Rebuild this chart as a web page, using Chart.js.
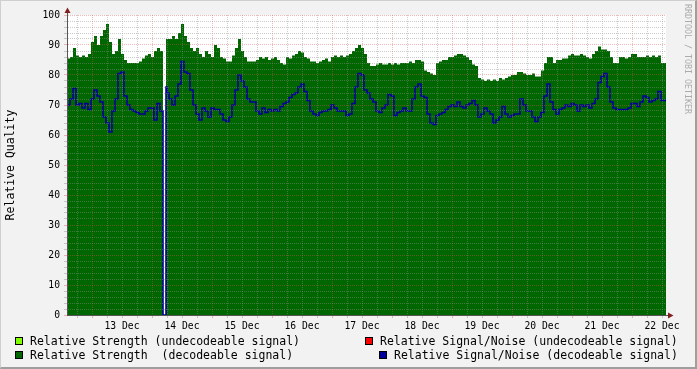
<!DOCTYPE html>
<html>
<head>
<meta charset="utf-8">
<script src="https://cdn.jsdelivr.net/npm/chart.js@4.4.1/dist/chart.umd.min.js"></script>
<style>
  html, body { margin: 0; padding: 0; background: #f2f2f2; }
  #wrap { position: relative; width: 697px; height: 369px; overflow: hidden; background: #f2f2f2; }
  #frame { position: absolute; left: 0; top: 0; width: 697px; height: 369px; box-sizing: border-box;
           border-top: 1px solid #cfcfcf; border-left: 1px solid #cfcfcf;
           border-right: 2px solid #9e9e9e; border-bottom: 2px solid #9e9e9e; pointer-events: none; }
  canvas { position: absolute; left: 0; top: 0; }
  .leg { position: absolute; font: 11.5px 'DejaVu Sans Mono', monospace; line-height: 14px; white-space: pre; color: #000; }
  .sw { position: absolute; width: 8px; height: 8px; box-sizing: border-box; border: 1px solid #000; }
  #mark { position: absolute; left: 683px; top: 4px; writing-mode: vertical-rl;
          font: 8.3px 'DejaVu Sans Mono', monospace; color: #ababab; white-space: pre; }
</style>
</head>
<body>
<div id="wrap">
  <canvas id="chart" width="697" height="369"></canvas>
  <div id="legend"></div>
  <div id="mark">RRDTOOL / TOBI OETIKER</div>
  <div id="frame"></div>
</div>
<script>
// one sample = 1.2 h, starting 12 Dec 14:00
const sampleHours = 1.2;
const xMax = 239.6;

// signal lost for one short slot at the start of this sample
const dropoutSample = 33;
const dropoutHours = 0.4;

// day labels sit at noon, first one 22 h after start; midnights from 10 h
const dayLabels = ['13 Dec', '14 Dec', '15 Dec', '16 Dec', '17 Dec', '18 Dec', '19 Dec', '20 Dec', '21 Dec', '22 Dec'];
const firstNoon = 22;
const firstMidnight = 10;

// Relative Strength (decodeable signal)
const strength = [
  86, 85.5, 86, 89, 86.5, 86, 86.5, 86, 87, 91,
  93, 90, 93, 95, 97, 91, 87, 88, 92, 87,
  85, 84, 84, 84, 84, 84.5, 85.5, 86.5, 87, 86,
  88, 89, 88, 92, 92, 92, 93, 92, 94, 97,
  93, 91, 89, 88, 89, 87, 86, 88, 87, 86,
  90, 89, 86, 85.5, 84.5, 84.5, 86.5, 89, 92, 88,
  86, 84.5, 84.5, 84.5, 85, 86, 85.5, 86, 85, 85.5,
  86, 85, 84, 83.5, 86, 85.5, 86.5, 87, 88, 87.5,
  86, 85.5, 84.5, 84.5, 84, 84.5, 85, 85.5, 84.5, 86,
  86.5, 86, 86.5, 86, 86.5, 87, 88, 89, 90, 89,
  87, 84, 83, 83, 83.5, 84, 83.5, 83.5, 84, 83.5,
  84, 83.5, 84, 84, 84, 84.5, 84, 85, 85, 84.5,
  81.5, 81, 80.5, 80, 84, 84.5, 85, 85, 86, 86,
  86.5, 87, 87, 86.5, 86, 85, 83.5, 83, 79, 78.5,
  78, 78.5, 78, 78.5, 78, 79, 78.5, 79, 79.5, 80,
  80, 81, 81, 80.5, 80, 80, 80.5, 79.5, 79.5, 81.5,
  84, 86, 86, 84, 85, 85, 85.5, 85.5, 86.5, 87,
  86.5, 86.5, 87, 86.5, 86, 85.5, 87, 88, 89.5, 88.5,
  88.5, 88, 86, 84, 84, 86, 86, 85.5, 86, 87,
  87, 86, 86, 86, 86.5, 86, 86.5, 86, 86.5, 84
];

// Relative Signal/Noise (decodeable signal)
const snr = [
  74, 70, 72, 75.5, 70, 70.5, 69, 70.5, 68.5, 72,
  75, 73, 71, 66, 64, 61, 68, 72, 80.5, 81,
  73, 70, 68.5, 68, 67.5, 67, 67, 68, 69, 69,
  65, 70.5, 68, 76, 74, 72, 70, 73, 77, 84.5,
  81, 80.5, 75, 70, 67, 65, 69, 68, 66, 69,
  68.5, 68.5, 67, 65, 64.5, 66, 70, 75, 80, 78,
  76, 72, 71, 71, 68, 67, 69, 67.5, 68.5, 68,
  68.5, 68, 69.5, 70.5, 71, 72.5, 73.5, 74, 76, 77,
  74.5, 71.5, 68, 67, 66.5, 67.5, 68, 68, 68.5, 70,
  69, 68, 68, 68, 66.5, 67, 70.5, 76, 80.5, 80,
  75, 74, 72, 71, 68, 67.5, 69, 70, 73.5, 73,
  66.5, 67.5, 68, 69, 68, 68, 72, 76, 77, 73,
  72.5, 67, 64, 63.5, 66.5, 67, 67.5, 68.5, 69.5, 70,
  69.5, 71, 69.5, 69, 70, 70.5, 71.5, 70, 66, 67,
  69, 68, 67, 64, 65, 66, 69.5, 67, 66, 66.5,
  67, 67, 72, 70, 68, 68, 66, 64.5, 66, 67.5,
  73, 77, 71, 68.5, 67, 68.5, 69, 70, 69.5, 70.5,
  70, 68, 70, 69.5, 70, 69, 70.5, 72, 77.5, 79.5,
  80.5, 76, 71, 69, 68.5, 68.5, 68.5, 68.5, 69, 70.5,
  70.5, 69.5, 71, 73, 72.5, 71, 71.5, 72, 74.5, 71.5
];

function toPoints(values) {
  let pts = [];
  values.forEach((v, i) => {
    let x = i * sampleHours;
    if (i == dropoutSample) {
      pts.push({ x: x, y: 0 });
      x += dropoutHours;
    }
    pts.push({ x: x, y: v });
  });
  pts.push({ x: values.length * sampleHours, y: values[values.length - 1] });
  return pts;
}

// grid every 6 hours
let xTicks = [];
for (let h = firstMidnight - 6; h <= xMax; h += 6) xTicks.push(h);

const minorGrid = 'rgba(143,143,143,0.45)';
const majorGrid = 'rgba(222,79,79,0.4)';

const canvasBg = {
  id: 'canvasBg',
  beforeDraw(chart) {
    const { ctx, chartArea: a } = chart;
    ctx.save();
    ctx.fillStyle = '#ffffff';
    ctx.fillRect(a.left, a.top, a.right - a.left, a.bottom - a.top);
    ctx.restore();
  }
};

const axisArrows = {
  id: 'axisArrows',
  afterDraw(chart) {
    const { ctx, chartArea: a } = chart;
    const x0 = a.left + 0.5;
    const y0 = a.bottom + 0.5;
    ctx.save();
    ctx.strokeStyle = '#555';
    ctx.lineWidth = 1;
    ctx.beginPath();
    ctx.moveTo(x0, a.top);
    ctx.lineTo(x0, a.top - 3);
    ctx.moveTo(a.right, y0);
    ctx.lineTo(a.right + 3, y0);
    ctx.stroke();
    ctx.fillStyle = 'rgb(128,31,31)';
    ctx.beginPath();
    ctx.moveTo(x0, a.top - 7.5);
    ctx.lineTo(x0 - 3, a.top - 2);
    ctx.lineTo(x0 + 3, a.top - 2);
    ctx.closePath();
    ctx.fill();
    ctx.beginPath();
    ctx.moveTo(a.right + 7.5, y0);
    ctx.lineTo(a.right + 2, y0 - 3);
    ctx.lineTo(a.right + 2, y0 + 3);
    ctx.closePath();
    ctx.fill();
    ctx.restore();
  }
};

Chart.defaults.font.family = "'DejaVu Sans Mono', monospace";
Chart.defaults.color = '#000';

const chart = new Chart(document.getElementById('chart'), {
  type: 'line',
  data: {
    datasets: [
      { label: 'Relative Strength (undecodeable signal)', data: [], backgroundColor: '#80ff00', borderColor: '#80ff00', order: 3 },
      { label: 'Relative Signal/Noise (undecodeable signal)', data: [], backgroundColor: '#ff0000', borderColor: '#ff0000', order: 2 },
      {
        label: 'Relative Strength  (decodeable signal)',
        data: toPoints(strength),
        stepped: 'after',
        fill: 'origin',
        backgroundColor: '#006600',
        borderColor: '#006600',
        borderWidth: 0,
        order: 1
      },
      {
        label: 'Relative Signal/Noise (decodeable signal)',
        data: toPoints(snr),
        stepped: 'after',
        fill: false,
        borderColor: '#000099',
        backgroundColor: '#000099',
        borderWidth: 1.6,
        order: 0
      }
    ]
  },
  options: {
    responsive: false,
    animation: false,
    devicePixelRatio: 1,
    layout: { padding: { top: 15, right: 31, bottom: 34, left: 0 } },
    elements: { point: { radius: 0 } },
    plugins: { legend: { display: false }, tooltip: { enabled: false } },
    scales: {
      x: {
        type: 'linear',
        min: 0,
        max: xMax,
        afterBuildTicks: (axis) => { axis.ticks = xTicks.map(v => ({ value: v })); },
        afterFit: (axis) => { axis.height = 20; },
        ticks: {
          autoSkip: false,
          maxRotation: 0,
          padding: 3,
          font: { size: 9.7 },
          callback: (v) => {
            let d = (v - firstNoon) / 24;
            return Number.isInteger(d) && d >= 0 ? dayLabels[d] : '';
          }
        },
        grid: {
          z: 1,
          tickLength: 3,
          color: (c) => ((c.tick.value - firstMidnight) % 24 === 0 ? majorGrid : minorGrid)
        },
        border: { display: true, color: '#555', dash: [1, 1], z: 2 }
      },
      y: {
        min: 0,
        max: 100,
        afterFit: (axis) => { axis.width = 67; },
        ticks: {
          stepSize: 2,
          autoSkip: false,
          padding: 4,
          font: { size: 9.7 },
          callback: (v) => (v % 10 === 0 ? String(v) : '')
        },
        grid: {
          z: 1,
          tickLength: 3,
          color: (c) => (c.tick.value % 10 === 0 ? majorGrid : minorGrid)
        },
        border: { display: true, color: '#555', dash: [1, 1], z: 2 },
        title: {
          display: true,
          text: 'Relative Quality',
          font: { size: 11.5 },
          padding: { top: 4, bottom: 0 }
        }
      }
    }
  },
  plugins: [canvasBg, axisArrows]
});

// legend, two rows: left column left-aligned, right column right-aligned
const slots = [
  { ds: 0, sx: 15, tx: 30, y: 334 },
  { ds: 1, sx: 365, tx: 380, y: 334 },
  { ds: 2, sx: 15, tx: 30, y: 348 },
  { ds: 3, sx: 379, tx: 394, y: 348 }
];
const legend = document.getElementById('legend');
slots.forEach((s) => {
  const ds = chart.data.datasets[s.ds];
  const sw = document.createElement('div');
  sw.className = 'sw';
  sw.style.left = s.sx + 'px';
  sw.style.top = (s.y + 3) + 'px';
  sw.style.background = ds.backgroundColor;
  legend.appendChild(sw);
  const t = document.createElement('div');
  t.className = 'leg';
  t.style.left = s.tx + 'px';
  t.style.top = s.y + 'px';
  t.textContent = ds.label;
  legend.appendChild(t);
});
</script>
</body>
</html>
